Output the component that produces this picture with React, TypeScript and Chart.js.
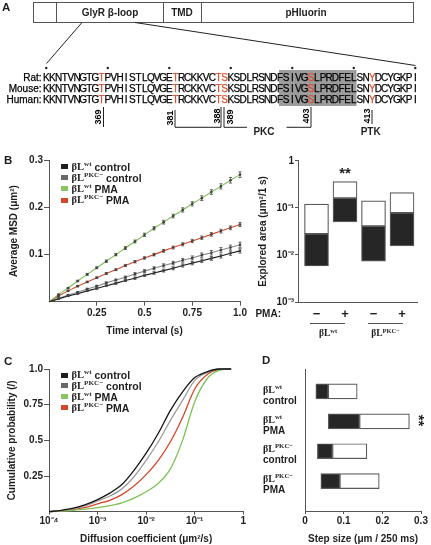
import React, { useEffect, useRef } from "react";
import { Chart, registerables } from "chart.js";

Chart.register(...registerables);

const SANS = "'Liberation Sans', Arial, Helvetica, sans-serif";
const SERIF = "'Liberation Serif', 'Times New Roman', serif";
const AXIS = "#555555";
const TXT = "#1e1e1e";

// ---------------- Data ----------------
// Panel A
const domainLabels = ["", "GlyR β-loop", "TMD", "pHluorin"];
const species = ["Rat:", "Mouse:", "Human:"];
const sequence = "KKNTVNGTGTPVHISTLQVGETRCKKVCTSKSDLRSNDFSIVGSLPRDFELSNYDCYGKPI";
const redResidues = [10, 22, 29, 30, 44, 54];
const siteLabels = ["369", "381", "388", "389", "403", "413"];
const kinaseLabels = ["PKC", "PTK"];

// Series meta (B and C)
const seriesSup = ["wt", "PKC−", "wt", "PKC−"];
const seriesCond = ["control", "control", "PMA", "PMA"];
const legendColors = ["#1c1c1c", "#6a6a6a", "#8cc462", "#d4482a"];
const msdLineColors = ["#1a1a1a", "#8a8a8a", "#7dbf52", "#d14a2c"];
const cdfLineColors = ["#141414", "#9c9c9c", "#7fc055", "#d4472a"];

// Panel B left: MSD vs time interval
const msdTime = [0, 0.05, 0.1, 0.15, 0.2, 0.25, 0.3, 0.35, 0.4, 0.45, 0.5, 0.55, 0.6, 0.65, 0.7, 0.75, 0.8, 0.85, 0.9, 0.95, 1.0];
const msdWtControl = [0, 0.006, 0.012, 0.017, 0.023, 0.028, 0.034, 0.039, 0.045, 0.05, 0.056, 0.061, 0.066, 0.071, 0.077, 0.082, 0.087, 0.092, 0.097, 0.103, 0.108];
const msdPkcControl = [0, 0.007, 0.014, 0.02, 0.027, 0.033, 0.04, 0.046, 0.052, 0.059, 0.065, 0.071, 0.077, 0.082, 0.088, 0.093, 0.099, 0.104, 0.11, 0.115, 0.121];
const msdWtPma = [0, 0.015, 0.029, 0.044, 0.058, 0.072, 0.086, 0.1, 0.114, 0.128, 0.142, 0.156, 0.169, 0.182, 0.195, 0.208, 0.22, 0.233, 0.245, 0.258, 0.27];
const msdPkcPma = [0, 0.012, 0.023, 0.033, 0.042, 0.051, 0.06, 0.068, 0.077, 0.085, 0.093, 0.1, 0.108, 0.115, 0.122, 0.129, 0.136, 0.143, 0.15, 0.157, 0.164];
const msdWtControlErr = [0, 0.0008, 0.001, 0.0012, 0.0014, 0.0016, 0.0018, 0.002, 0.0022, 0.0024, 0.0026, 0.0028, 0.003, 0.0032, 0.0034, 0.0036, 0.0038, 0.004, 0.0042, 0.0044, 0.0046];
const msdPkcControlErr = [0, 0.0008, 0.001, 0.0012, 0.0015, 0.0018, 0.002, 0.0022, 0.0025, 0.0028, 0.003, 0.0032, 0.0035, 0.0038, 0.004, 0.0042, 0.0045, 0.0048, 0.005, 0.0052, 0.0055];
const msdWtPmaErr = [0, 0.001, 0.001, 0.0015, 0.002, 0.002, 0.0025, 0.0025, 0.003, 0.003, 0.0035, 0.0035, 0.004, 0.004, 0.0045, 0.0045, 0.005, 0.005, 0.0055, 0.006, 0.006];
const msdPkcPmaErr = [0, 0.001, 0.001, 0.0012, 0.0015, 0.0018, 0.002, 0.002, 0.0022, 0.0025, 0.0025, 0.0028, 0.003, 0.003, 0.0032, 0.0035, 0.0035, 0.0038, 0.004, 0.004, 0.0042];
const msdXTicks = [0.25, 0.5, 0.75, 1];
const msdXLabels = ["0.25", "0.5", "0.75", "1.0"];
const msdYTicks = [0.1, 0.2, 0.3];
const msdYLabels = ["0.1", "0.2", "0.3"];

// Panel B right: explored area (floating bars, log scale)
const pmaSigns = ["−", "+", "−", "+"];
const areaLow = [0.0058, 0.05, 0.0074, 0.0155];
const areaMid = [0.028, 0.16, 0.041, 0.078];
const areaHigh = [0.12, 0.36, 0.14, 0.21];
const areaYTicks = [0.001, 0.01, 0.1, 1];
const areaYLabels = ["10⁻³", "10⁻²", "10⁻¹", ""];
const unitLabel = "1"; // label of the decade 10^0 on both log axes

// Panel C: cumulative probability of diffusion coefficients
const cdfD = [1e-4, 1.78e-4, 3.16e-4, 5.62e-4, 1e-3, 1.78e-3, 3.16e-3, 5.62e-3, 1e-2, 1.78e-2, 3.16e-2, 5.62e-2, 0.1, 0.178, 0.316, 0.562];
const cdfWtControl = [0, 0.01, 0.025, 0.05, 0.085, 0.13, 0.19, 0.29, 0.41, 0.55, 0.71, 0.84, 0.94, 0.98, 1.0, 1.0];
const cdfPkcControl = [0, 0.008, 0.02, 0.042, 0.075, 0.11, 0.16, 0.245, 0.36, 0.49, 0.64, 0.78, 0.92, 0.975, 1.0, 1.0];
const cdfWtPma = [0, 0.004, 0.01, 0.018, 0.028, 0.042, 0.062, 0.095, 0.14, 0.2, 0.3, 0.5, 0.77, 0.93, 0.99, 1.0];
const cdfPkcPma = [0, 0.006, 0.015, 0.03, 0.055, 0.08, 0.12, 0.18, 0.26, 0.36, 0.49, 0.66, 0.86, 0.96, 0.995, 1.0];
const cdfXTicks = [1e-4, 1e-3, 1e-2, 1e-1, 1];
const cdfXLabels = ["10⁻⁴", "10⁻³", "10⁻²", "10⁻¹", ""];
const cdfYTicks = [0.25, 0.5, 0.75, 1];
const cdfYLabels = ["0.25", "0.5", "0.75", "1.0"];

// Panel D: step size (floating horizontal bars)
const stepSup = ["wt", "wt", "PKC−", "PKC−"];
const stepCond = ["control", "PMA", "control", "PMA"];
const stepLow = [0.028, 0.06, 0.032, 0.041];
const stepMid = [0.06, 0.141, 0.071, 0.09];
const stepHigh = [0.135, 0.27, 0.16, 0.192];
const stepXTicks = [0, 0.1, 0.2, 0.3];
const stepXLabels = ["0", "0.1", "0.2", "0.3"];

// ---------------- Helpers ----------------
const tickFont = (size = 10) => ({ family: SANS, size, weight: "bold" as const });
const titleFont = { family: SANS, size: 10, weight: "bold" as const };

function labelFor(ticks: number[], labels: string[], v: number) {
  let best = -1;
  ticks.forEach((t, i) => {
    if (Math.abs(t - v) <= Math.abs(t) * 1e-6 + 1e-12) best = i;
  });
  return best >= 0 ? labels[best] : "";
}

function axis(o: {
  tickLength: number;
  padding: number;
  ticks?: number[];
  labels?: string[];
  fontSize?: number;
  drawTicks?: boolean;
  display?: boolean;
}) {
  const res: any = {
    offset: false,
    border: { display: true, color: AXIS, width: 1 },
    grid: {
      display: true,
      offset: false,
      drawOnChartArea: false,
      drawTicks: o.drawTicks !== false,
      tickLength: o.tickLength,
      color: AXIS,
      tickColor: AXIS,
    },
    ticks: {
      display: o.display !== false,
      font: tickFont(o.fontSize),
      color: TXT,
      padding: o.padding,
      maxRotation: 0,
      minRotation: 0,
      autoSkip: false,
      major: { enabled: false },
      callback: (v: number) => (o.ticks && o.labels ? labelFor(o.ticks, o.labels, v) : ""),
    },
  };
  if (o.ticks) {
    const t = o.ticks;
    const l = o.labels || [];
    res.afterBuildTicks = (s: any) => {
      s.ticks = t.map((v) => ({ value: v, major: false }));
    };
    res.afterTickToLabelConversion = (s: any) => {
      s.ticks.forEach((tk: any) => {
        tk.label = labelFor(t, l, tk.value);
      });
    };
  }
  return res;
}

function makeErrorPlugin(errs: number[][]) {
  return {
    id: "errorBars",
    afterDatasetsDraw(chart: any) {
      const ctx = chart.ctx;
      const ys = chart.scales.y;
      ctx.save();
      ctx.strokeStyle = "#4a4a4a";
      ctx.lineWidth = 0.8;
      errs.forEach((e, di) => {
        const meta = chart.getDatasetMeta(di);
        const ds = chart.data.datasets[di];
        meta.data.forEach((pt: any, i: number) => {
          const err = e[i];
          if (!err) return;
          const v = ds.data[i].y;
          const x = pt.x;
          const y1 = ys.getPixelForValue(v - err);
          const y2 = ys.getPixelForValue(v + err);
          ctx.beginPath();
          ctx.moveTo(x, y1);
          ctx.lineTo(x, y2);
          ctx.moveTo(x - 1.6, y1);
          ctx.lineTo(x + 1.6, y1);
          ctx.moveTo(x - 1.6, y2);
          ctx.lineTo(x + 1.6, y2);
          ctx.stroke();
        });
      });
      ctx.restore();
    },
  };
}

const baseOptions = (padding: any) => ({
  responsive: false,
  animation: false as const,
  devicePixelRatio: 1,
  events: [] as any[],
  layout: { autoPadding: false, padding },
  plugins: { legend: { display: false }, tooltip: { enabled: false } },
});

type Box = { left: number; top: number; width: number; height: number };

function ChartBox({ box, make }: { box: Box; make: () => any }) {
  const ref = useRef<HTMLCanvasElement>(null);
  useEffect(() => {
    const chart = new Chart(ref.current as HTMLCanvasElement, make());
    return () => chart.destroy();
  }, []);
  return (
    <canvas
      ref={ref}
      width={box.width}
      height={box.height}
      style={{ position: "absolute", left: box.left, top: box.top, width: box.width, height: box.height, display: "block" }}
    />
  );
}

// ---------------- Chart configs ----------------
function msdConfig() {
  const series = [msdWtControl, msdPkcControl, msdWtPma, msdPkcPma];
  const errs = [msdWtControlErr, msdPkcControlErr, msdWtPmaErr, msdPkcPmaErr];
  const xAxis = axis({ tickLength: 4, padding: 2, ticks: msdXTicks, labels: msdXLabels });
  const yAxis = axis({ tickLength: 5, padding: 1, ticks: msdYTicks, labels: msdYLabels });
  return {
    type: "line",
    data: {
      datasets: series.map((s, k) => ({
        label: `βL${seriesSup[k]} ${seriesCond[k]}`,
        data: s.map((v, i) => ({ x: msdTime[i], y: v })),
        borderColor: msdLineColors[k],
        backgroundColor: msdLineColors[k],
        borderWidth: 1.1,
        pointRadius: (c: any) => (c.dataIndex === 0 ? 0 : 1.3),
        pointBorderWidth: 0,
        pointBackgroundColor: "#3a3a3a",
        tension: 0,
        clip: false,
      })),
    },
    options: {
      ...baseOptions({ left: 0, top: 10.5, right: 12, bottom: 0 }),
      scales: {
        x: {
          type: "linear",
          min: 0,
          max: 1,
          ...xAxis,
          afterFit: (s: any) => {
            s.height = 38.3;
          },
          title: { display: true, text: "Time interval (s)", font: titleFont, color: TXT, padding: { top: 0, bottom: 3 } },
        },
        y: {
          type: "linear",
          min: 0,
          max: 0.3,
          ...yAxis,
          afterFit: (s: any) => {
            s.width = 49;
          },
          title: { display: true, text: "Average MSD (μm²)", font: titleFont, color: TXT, padding: { top: 8.5, bottom: 0 } },
        },
      },
    },
    plugins: [makeErrorPlugin(errs)],
  };
}

function areaConfig() {
  const xAxis = axis({ tickLength: 0, padding: 5, ticks: [1, 2, 3, 4], labels: pmaSigns, fontSize: 13, drawTicks: false });
  const yAxis = axis({ tickLength: 3, padding: 1, ticks: areaYTicks, labels: areaYLabels });
  const common = {
    borderColor: "#5a5a5a",
    borderWidth: 1.2,
    borderSkipped: false,
    barThickness: 24,
    grouped: false,
  };
  return {
    type: "bar",
    data: {
      datasets: [
        {
          label: "lower",
          data: areaLow.map((lo, i) => ({ x: i + 1, y: [lo, areaMid[i]] })),
          backgroundColor: "#262626",
          ...common,
        },
        {
          label: "upper",
          data: areaMid.map((m, i) => ({ x: i + 1, y: [m, areaHigh[i]] })),
          backgroundColor: "#ffffff",
          ...common,
        },
      ],
    },
    options: {
      ...baseOptions({ left: 0, top: 10.7, right: 14, bottom: 0 }),
      scales: {
        x: {
          type: "linear",
          min: 0.351,
          max: 4.526,
          ...xAxis,
          afterFit: (s: any) => {
            s.height = 38;
          },
        },
        y: {
          type: "logarithmic",
          min: 0.001,
          max: 1,
          ...yAxis,
          afterFit: (s: any) => {
            s.width = 46;
          },
          title: { display: true, text: "Explored area (μm²/1 s)", font: titleFont, color: TXT, padding: { top: 5.3, bottom: 0 } },
        },
      },
    },
  };
}

function cdfConfig() {
  const series = [cdfWtControl, cdfPkcControl, cdfWtPma, cdfPkcPma];
  const xAxis = axis({ tickLength: 3, padding: 1, ticks: cdfXTicks, labels: cdfXLabels });
  const yAxis = axis({ tickLength: 5, padding: 1, ticks: cdfYTicks, labels: cdfYLabels });
  return {
    type: "line",
    data: {
      datasets: series.map((s, k) => ({
        label: `βL${seriesSup[k]} ${seriesCond[k]}`,
        data: s.map((v, i) => ({ x: cdfD[i], y: v })),
        borderColor: cdfLineColors[k],
        backgroundColor: cdfLineColors[k],
        borderWidth: 1.3,
        pointRadius: 0,
        cubicInterpolationMode: "monotone",
        clip: false,
      })),
    },
    options: {
      ...baseOptions({ left: 0, top: 17, right: 8.7, bottom: 0 }),
      scales: {
        x: {
          type: "logarithmic",
          min: 1e-4,
          max: 1,
          ...xAxis,
          afterFit: (s: any) => {
            s.height = 33.3;
          },
          title: { display: true, text: "Diffusion coefficient (μm²/s)", font: titleFont, color: TXT, padding: { top: 0, bottom: 0 } },
        },
        y: {
          type: "linear",
          min: 0,
          max: 1,
          ...yAxis,
          afterFit: (s: any) => {
            s.width = 49;
          },
          title: { display: true, text: "Cumulative probability (/)", font: titleFont, color: TXT, padding: { top: 6.5, bottom: 0 } },
        },
      },
    },
  };
}

function stepConfig() {
  const xAxis = axis({ tickLength: 3, padding: 1, ticks: stepXTicks, labels: stepXLabels });
  const yAxis = axis({ tickLength: 0, padding: 0, drawTicks: false, display: false });
  const common = {
    borderColor: "#5a5a5a",
    borderWidth: 1.2,
    borderSkipped: false,
    barThickness: 15,
    grouped: false,
  };
  return {
    type: "bar",
    data: {
      datasets: [
        {
          label: "lower",
          data: stepLow.map((lo, i) => ({ y: i + 1, x: [lo, stepMid[i]] })),
          backgroundColor: "#262626",
          ...common,
        },
        {
          label: "upper",
          data: stepMid.map((m, i) => ({ y: i + 1, x: [m, stepHigh[i]] })),
          backgroundColor: "#ffffff",
          ...common,
        },
      ],
    },
    options: {
      ...baseOptions({ left: 0, top: 17, right: 10, bottom: 0 }),
      indexAxis: "y",
      scales: {
        x: {
          type: "linear",
          min: 0,
          max: 0.3,
          ...xAxis,
          afterFit: (s: any) => {
            s.height = 34;
          },
          title: { display: true, text: "Step size (μm / 250 ms)", font: titleFont, color: TXT, padding: { top: 0, bottom: 0 } },
        },
        y: {
          type: "linear",
          reverse: true,
          min: 0.25,
          max: 5.0,
          ...yAxis,
          afterFit: (s: any) => {
            s.width = 5;
          },
        },
      },
    },
  };
}

// ---------------- HTML text helpers ----------------
function BL({ sup, size }: { sup: string; size: number }) {
  return (
    <span>
      <span style={{ fontFamily: SERIF, fontWeight: "bold" }}>βL</span>
      <span
        style={{
          fontFamily: SERIF,
          fontWeight: "bold",
          fontSize: size * 0.68,
          position: "relative",
          top: -size * 0.38,
        }}
      >
        {sup}
      </span>
    </span>
  );
}

function Legend({ left, rows }: { left: number; rows: number[] }) {
  return (
    <>
      {rows.map((cy, k) => (
        <div
          key={k}
          style={{
            position: "absolute",
            left,
            top: cy - 6,
            height: 12,
            lineHeight: "12px",
            display: "flex",
            alignItems: "center",
            whiteSpace: "nowrap",
            fontFamily: SANS,
            fontWeight: "bold",
            fontSize: 10.5,
            color: TXT,
          }}
        >
          <span style={{ display: "inline-block", width: 7, height: 5, background: legendColors[k], marginRight: 3.5 }} />
          <BL sup={seriesSup[k]} size={10.5} />
          <span>&nbsp;{seriesCond[k]}</span>
        </div>
      ))}
    </>
  );
}

function Label({ x, cy, text, size = 11.5, align = "left" }: { x: number; cy: number; text: React.ReactNode; size?: number; align?: string }) {
  const style: any = {
    position: "absolute",
    top: cy - size / 2,
    fontSize: size,
    lineHeight: `${size}px`,
    fontFamily: SANS,
    fontWeight: "bold",
    color: TXT,
    whiteSpace: "nowrap",
  };
  if (align === "left") style.left = x;
  else if (align === "right") style.right = 431 - x;
  else {
    style.left = x - 20;
    style.width = 40;
    style.textAlign = "center";
  }
  return <div style={style}>{text}</div>;
}

// ---------------- Panel A (schematic) ----------------
function PanelA() {
  const pitch = 6.15;
  const x0 = 43.2;
  const cx = (i: number) => x0 + pitch * (i + 0.5);
  const xList = sequence
    .split("")
    .map((_, i) => cx(i).toFixed(2))
    .join(" ");
  const baselines = [80.6, 91.9, 103.2];
  const dividers = [56, 163, 201];
  const domainCenters = [44.5, 110, 182, 306];
  const stroke = "#222";
  const numPos = [
    [97.5, 117],
    [170, 118],
    [216.5, 116],
    [229.5, 117],
    [305.5, 116],
    [366.5, 116],
  ];
  const runs: { text: string; red: boolean }[] = [];
  sequence.split("").forEach((ch, i) => {
    const red = redResidues.includes(i + 1);
    const last = runs[runs.length - 1];
    if (last && last.red === red) last.text += ch;
    else runs.push({ text: ch, red });
  });
  return (
    <svg width={431} height={140} style={{ position: "absolute", left: 0, top: 0, willChange: "transform" }}>
      <text x={2} y={11} fontFamily={SANS} fontWeight="bold" fontSize={11.5} fill={TXT}>
        A
      </text>
      <rect x={33.5} y={2.5} width={380} height={20} fill="#fff" stroke="#555" strokeWidth={1} />
      {dividers.map((d) => (
        <line key={d} x1={d + 0.5} y1={2.5} x2={d + 0.5} y2={22.5} stroke="#555" strokeWidth={1} />
      ))}
      {domainLabels.map((t, i) =>
        t ? (
          <text key={i} x={domainCenters[i]} y={16} textAnchor="middle" fontFamily={SANS} fontWeight="bold" fontSize={10} fill={TXT}>
            {t}
          </text>
        ) : null
      )}
      <line x1={82} y1={22.5} x2={46.5} y2={63.5} stroke={stroke} strokeWidth={1} />
      <line x1={135} y1={22.5} x2={415.5} y2={65.5} stroke={stroke} strokeWidth={1} />
      <rect x={279} y={70} width={77.5} height={36} fill="#9c9c9c" />
      {[0, 10, 20, 30, 40, 50, 60].map((i) => (
        <circle key={i} cx={cx(i)} cy={68} r={1.2} fill={stroke} />
      ))}
      {species.map((sp, r) => (
        <g key={sp}>
          <text x={41.5} y={baselines[r]} textAnchor="end" fontFamily={SANS} fontSize={10} fill="#000" stroke="#000" strokeWidth={0.25}>
            {sp}
          </text>
          <text
            x={xList}
            y={baselines[r]}
            textAnchor="middle"
            fontFamily={SANS}
            fontSize={10}
            fill="#000"
            stroke="#000"
            strokeWidth={0.25}
          >
            {runs.map((run, j) =>
              run.red ? (
                <tspan key={j} fill="#dc4f2e" stroke="#dc4f2e">
                  {run.text}
                </tspan>
              ) : (
                <React.Fragment key={j}>{run.text}</React.Fragment>
              )
            )}
          </text>
        </g>
      ))}
      {/* site markers */}
      <line x1={103.5} y1={107} x2={103.5} y2={127} stroke={stroke} />
      <polyline points="175,110 175,127.3 221,127.3" fill="none" stroke={stroke} />
      <line x1={221} y1={107} x2={221} y2={127.3} stroke={stroke} />
      <polyline points="224,107 224,127.3 247,127.3" fill="none" stroke={stroke} />
      <polyline points="286.5,127.3 311,127.3 311,107" fill="none" stroke={stroke} />
      <line x1={372} y1={110} x2={372} y2={124} stroke={stroke} />
      {siteLabels.map((s, i) => (
        <text
          key={s}
          transform={`translate(${numPos[i][0]},${numPos[i][1]}) rotate(-90)`}
          textAnchor="middle"
          dominantBaseline="central"
          fontFamily={SANS}
          fontWeight="bold"
          fontSize={9}
          fill="#000"
        >
          {s}
        </text>
      ))}
      <text x={264} y={134.5} textAnchor="middle" fontFamily={SANS} fontWeight="bold" fontSize={10} fill={TXT}>
        {kinaseLabels[0]}
      </text>
      <text x={370.7} y={134.5} textAnchor="middle" fontFamily={SANS} fontWeight="bold" fontSize={10} fill={TXT}>
        {kinaseLabels[1]}
      </text>
    </svg>
  );
}

// ---------------- App ----------------
export default function App() {
  const stepCenters = [391.5, 421.5, 451, 480.8];
  return (
    <div
      style={{
        position: "absolute",
        left: 0,
        top: 0,
        width: 431,
        height: 545,
        background: "#fff",
        overflow: "hidden",
        fontFamily: SANS,
        color: TXT,
      }}
    >
      <PanelA />
      <ChartBox box={{ left: 0, top: 150, width: 252, height: 190 }} make={msdConfig} />
      <ChartBox box={{ left: 252, top: 150, width: 179, height: 190 }} make={areaConfig} />
      <ChartBox box={{ left: 0, top: 352, width: 252, height: 193 }} make={cdfConfig} />
      <ChartBox box={{ left: 300, top: 352, width: 131, height: 193 }} make={stepConfig} />

      {/* Panel letters */}
      <Label x={4} cy={161} text="B" />
      <Label x={4} cy={362} text="C" />
      <Label x={262} cy={361} text="D" />

      {/* Legends */}
      <Legend left={61} rows={[166.7, 177.8, 188.9, 200]} />
      <Legend left={61} rows={[375, 385.9, 396.8, 407.7]} />

      {/* Decade "1" labels of the two log axes */}
      <Label x={294} cy={161} text={unitLabel} size={10} align="right" />
      <Label x={243.3} cy={521} text={unitLabel} size={10} align="center" />

      {/* Panel B right annotations */}
      <Label x={345} cy={172} text="**" size={15} align="center" />
      <Label x={281} cy={314} text="PMA:" size={10} align="right" />
      <div style={{ position: "absolute", left: 310, top: 323, width: 35, borderTop: `1px solid ${AXIS}` }} />
      <div style={{ position: "absolute", left: 368, top: 323, width: 35, borderTop: `1px solid ${AXIS}` }} />
      <Label x={328} cy={333} text={<BL sup="wt" size={9.5} />} size={9.5} align="center" />
      <Label x={385.5} cy={333} text={<BL sup="PKC−" size={9.5} />} size={9.5} align="center" />

      {/* Panel D category labels */}
      {stepCenters.map((c, i) => (
        <React.Fragment key={i}>
          <Label x={263} cy={c - 2} text={<BL sup={stepSup[i]} size={10} />} size={10} />
          <Label x={263} cy={c + 9} text={stepCond[i]} size={10} />
        </React.Fragment>
      ))}
      <div
        style={{
          position: "absolute",
          left: 409,
          top: 413,
          width: 20,
          height: 15,
          lineHeight: "15px",
          fontSize: 15,
          fontWeight: "bold",
          fontFamily: SANS,
          textAlign: "center",
          color: TXT,
          transform: "rotate(90deg)",
        }}
      >
        **
      </div>
    </div>
  );
}
